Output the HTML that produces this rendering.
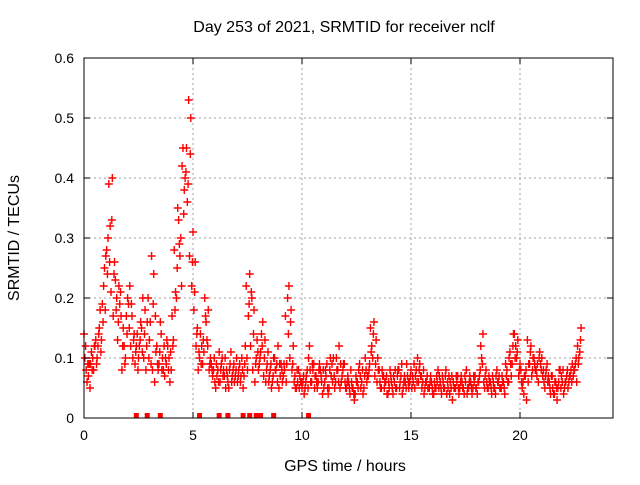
<!DOCTYPE html>
<html><head><meta charset="utf-8"><style>
body{margin:0;background:#fff}
svg{font-family:"Liberation Sans",sans-serif;font-size:14px}
</style></head><body>
<svg id="c" width="640" height="480">
<text x="344" y="32" text-anchor="middle" font-size="16">Day 253 of 2021, SRMTID for receiver nclf</text>
<text x="345" y="471" text-anchor="middle" font-size="16">GPS time / hours</text>
<text transform="translate(19,238) rotate(-90)" text-anchor="middle" font-size="16">SRMTID / TECUs</text>
<g id="grid"></g><g id="marks"></g><g id="axes"></g>
</svg>
<script>
const xTicks=[0,5,10,15,20];
const yTicks=[0,0.1,0.2,0.3,0.4,0.5,0.6];
const yTickLabels=["0","0.1","0.2","0.3","0.4","0.5","0.6"];
const seriesA=[0.14,0.08,0.07,0.09,0.10,0.12,0.10,0.15,0.13,0.22,
0.27,0.30,0.32,0.40,0.26,0.20,0.22,0.17,0.15,0.10,
0.20,0.22,0.17,0.14,0.12,0.10,0.16,0.20,0.18,0.16,
0.13,0.27,0.24,0.11,0.08,0.16,0.10,0.07,0.13,0.10,
0.08,0.13,0.21,0.35,0.27,0.42,0.38,0.45,0.53,0.50,
0.31,0.26,0.15,0.10,0.12,0.11,0.16,0.18,0.10,0.07,
0.06,0.07,0.11,0.09,0.08,0.05,0.06,0.09,0.07,0.06,
0.10,0.08,0.07,0.05,0.12,0.08,0.24,0.20,0.18,0.10,
0.08,0.11,0.16,0.13,0.09,0.07,0.05,0.10,0.08,0.12,
0.07,0.06,0.08,0.09,0.22,0.18,0.12,0.05,0.06,0.07,
0.05,0.04,0.07,0.10,0.06,0.08,0.07,0.05,0.09,0.06,
0.05,0.07,0.04,0.10,0.06,0.05,0.08,0.12,0.06,0.09,
0.05,0.07,0.04,0.05,0.03,0.06,0.08,0.05,0.04,0.10,
0.07,0.09,0.12,0.16,0.13,0.08,0.05,0.07,0.06,0.04,
0.05,0.06,0.07,0.05,0.08,0.06,0.04,0.07,0.09,0.05,
0.08,0.06,0.07,0.10,0.09,0.05,0.04,0.06,0.05,0.07,
0.04,0.05,0.06,0.07,0.04,0.05,0.08,0.05,0.06,0.03,
0.05,0.06,0.04,0.07,0.05,0.06,0.05,0.07,0.04,0.06,
0.05,0.06,0.12,0.14,0.07,0.05,0.06,0.04,0.05,0.07,
0.06,0.05,0.06,0.04,0.08,0.10,0.07,0.14,0.12,0.13,
0.09,0.05,0.07,0.03,0.09,0.12,0.10,0.08,0.09,0.11,
0.10,0.06,0.08,0.07,0.04,0.05,0.06,0.03,0.08,0.07,
0.04,0.06,0.05,0.07,0.09,0.08,0.06,0.10,0.15];
const seriesB=[0.10,0.06,0.09,0.11,0.08,0.13,0.12,0.18,0.19,0.25,
0.28,0.39,0.21,0.17,0.23,0.13,0.19,0.08,0.12,0.17,
0.19,0.12,0.10,0.09,0.14,0.12,0.15,0.10,0.08,0.20,
0.16,0.08,0.06,0.12,0.09,0.14,0.08,0.10,0.12,0.06,
0.17,0.28,0.20,0.33,0.30,0.45,0.40,0.36,0.27,0.22,
0.18,0.12,0.08,0.14,0.09,0.20,0.13,0.08,0.09,0.08,
0.05,0.08,0.06,0.10,0.07,0.08,0.05,0.11,0.08,0.07,
0.06,0.09,0.10,0.07,0.22,0.17,0.12,0.08,0.06,0.13,
0.09,0.14,0.07,0.06,0.11,0.08,0.06,0.10,0.09,0.05,
0.09,0.07,0.17,0.20,0.10,0.08,0.06,0.05,0.08,0.06,
0.06,0.05,0.08,0.12,0.06,0.09,0.07,0.06,0.08,0.04,
0.06,0.09,0.05,0.07,0.10,0.06,0.08,0.05,0.07,0.09,
0.05,0.06,0.08,0.05,0.04,0.06,0.09,0.06,0.05,0.08,
0.07,0.15,0.10,0.07,0.06,0.08,0.05,0.07,0.06,0.04,
0.08,0.05,0.06,0.05,0.08,0.07,0.05,0.06,0.07,0.06,
0.05,0.09,0.08,0.06,0.07,0.06,0.05,0.07,0.05,0.06,
0.04,0.05,0.08,0.06,0.07,0.05,0.04,0.07,0.05,0.06,
0.05,0.07,0.05,0.06,0.04,0.08,0.05,0.06,0.05,0.07,
0.04,0.07,0.10,0.06,0.08,0.05,0.06,0.07,0.05,0.08,
0.07,0.05,0.06,0.09,0.06,0.11,0.09,0.14,0.10,0.07,
0.08,0.06,0.07,0.13,0.09,0.07,0.10,0.08,0.06,0.09,
0.07,0.05,0.09,0.06,0.07,0.04,0.06,0.05,0.08,0.06,
0.05,0.07,0.06,0.08,0.07,0.09,0.12,0.11];
const seriesC=[0.12,0.09,0.05,0.08,0.12,0.09,0.14,0.11,0.16,0.18,
0.24,0.26,0.33,0.24,0.18,0.16,0.21,0.12,0.09,0.14,
0.15,0.19,0.13,0.11,0.08,0.13,0.11,0.14,0.12,0.10,
0.09,0.19,0.17,0.09,0.11,0.08,0.12,0.09,0.08,0.11,
0.12,0.18,0.25,0.29,0.22,0.34,0.41,0.39,0.44,0.26,
0.21,0.14,0.11,0.09,0.13,0.17,0.12,0.09,0.08,0.10,
0.09,0.06,0.08,0.07,0.10,0.07,0.08,0.06,0.09,0.08,
0.07,0.06,0.08,0.09,0.10,0.19,0.21,0.14,0.09,0.11,
0.10,0.12,0.10,0.08,0.06,0.09,0.07,0.08,0.06,0.09,
0.08,0.09,0.06,0.14,0.16,0.09,0.07,0.08,0.05,0.06,
0.07,0.06,0.05,0.08,0.09,0.05,0.06,0.08,0.07,0.08,
0.08,0.05,0.08,0.09,0.07,0.10,0.06,0.09,0.08,0.06,
0.06,0.05,0.06,0.04,0.07,0.05,0.07,0.08,0.07,0.06,
0.08,0.11,0.14,0.09,0.10,0.06,0.08,0.05,0.07,0.06,
0.07,0.04,0.08,0.07,0.05,0.09,0.06,0.05,0.06,0.07,
0.07,0.05,0.06,0.08,0.07,0.08,0.06,0.05,0.06,0.05,
0.06,0.07,0.05,0.05,0.06,0.07,0.06,0.04,0.07,0.05,
0.07,0.05,0.06,0.05,0.07,0.04,0.06,0.05,0.07,0.05,
0.06,0.08,0.09,0.05,0.06,0.07,0.05,0.06,0.04,0.06,
0.05,0.07,0.05,0.07,0.06,0.09,0.12,0.10,0.11,0.08,
0.06,0.04,0.08,0.06,0.11,0.08,0.09,0.07,0.10,0.08,
0.08,0.07,0.06,0.05,0.07,0.04,0.05,0.06,0.05,0.08,
0.06,0.08,0.07,0.06,0.08,0.10,0.09,0.13];
const gapTimes=[2.4,2.9,3.5,5.3,6.2,6.6,7.3,7.6,7.9,8.0,8.1,8.7,10.3];
const step=0.1;

const L=84,R=613,T=58,B=418;
const xs=h=>L+h*21.8;
const ys=v=>B-v*600;
const NS="http://www.w3.org/2000/svg";
function mk(tag,attrs,parent){const e=document.createElementNS(NS,tag);for(const k in attrs)e.setAttribute(k,attrs[k]);parent.appendChild(e);return e;}
const grid=document.getElementById('grid'),marks=document.getElementById('marks'),axes=document.getElementById('axes');
xTicks.forEach(t=>{
  if(t>0){const g=mk('line',{x1:xs(t),x2:xs(t),y1:T,y2:B,stroke:'#a0a0a0','stroke-dasharray':'2,3'},grid);
  
  }
  const tk=mk('path',{d:`M${xs(t)},${B}v-6M${xs(t)},${T}v6`,stroke:'#000'},axes);
  
  
  const lb=mk('text',{x:xs(t),y:B+22,'text-anchor':'middle'},axes);lb.textContent=String(t);
  
  
});
yTicks.forEach((v,i)=>{
  if(v>0&&v<0.6){const g=mk('line',{x1:L,x2:R,y1:ys(v),y2:ys(v),stroke:'#a0a0a0','stroke-dasharray':'2,3'},grid);
  
  }
  const tk=mk('path',{d:`M${L},${ys(v)}h6M${R},${ys(v)}h-6`,stroke:'#000'},axes);
  
  
  const lb=mk('text',{x:L-10,y:ys(v)+5,'text-anchor':'end'},axes);lb.textContent=yTickLabels[i];
  
  
});
const frame=mk('rect',{x:L,y:T,width:R-L,height:B-T,fill:'none',stroke:'#000'},axes);


function plus(x,y,col){const p=mk('path',{d:`M${x-4},${y}h8M${x},${y-4}v8`,stroke:col,'stroke-width':1.4},marks);
  
  }
seriesC.forEach((v,i)=>plus(xs(i*step+0.075),ys(v),'#ff0000'));
seriesB.forEach((v,i)=>plus(xs(i*step+0.04),ys(v),'#ff0000'));
seriesA.forEach((v,i)=>plus(xs(i*step),ys(v),'#ff0000'));
gapTimes.forEach(t=>{const r=mk('rect',{x:xs(t)-2.5,y:B-5,width:5,height:5,fill:'#ff0000'},marks);
  
  });
</script>
</body></html>
